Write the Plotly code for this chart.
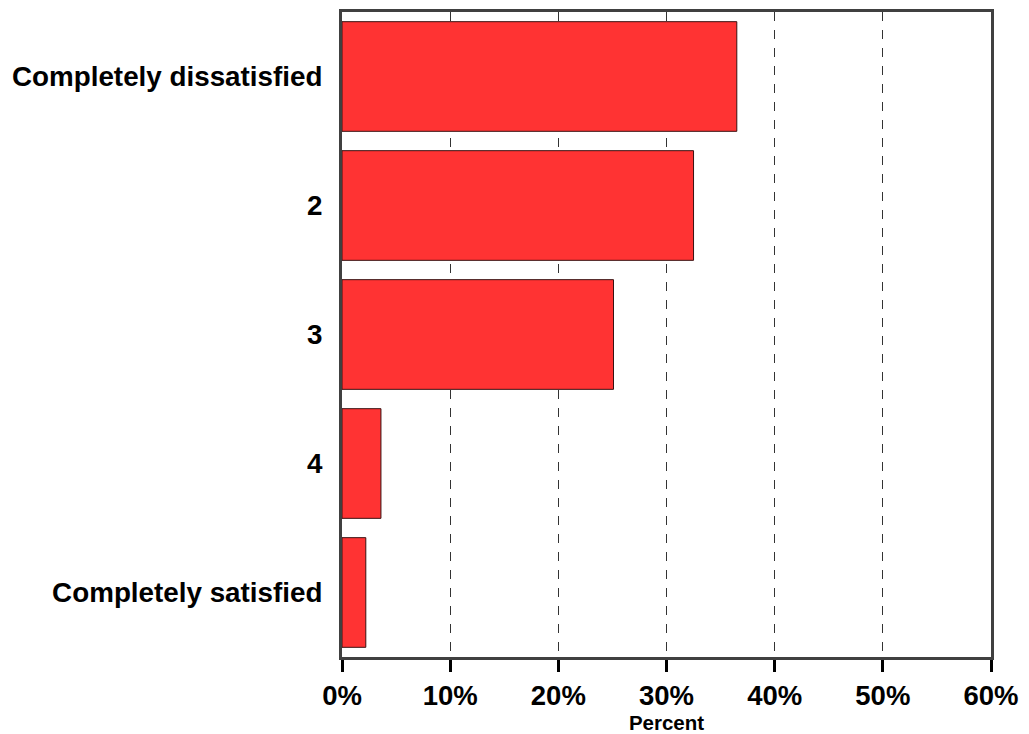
import plotly.graph_objects as go

categories = ["Completely dissatisfied", "2", "3", "4", "Completely satisfied"]
percent = [36.5, 32.5, 25.1, 3.6, 2.2]
x_ticks = [0, 10, 20, 30, 40, 50, 60]
x_tick_labels = ["0%", "10%", "20%", "30%", "40%", "50%", "60%"]

fig = go.Figure()
fig.add_trace(go.Bar(
    y=categories, x=percent, orientation="h",
    marker=dict(color="#FF3333", line=dict(color="#3a1010", width=1)),
    width=0.85,
))

# page body has an 8px margin; compensate so the plot area lands at 342..991 x 9..657
fig.update_layout(
    width=1021, height=726,
    margin=dict(l=334, r=38, t=1, b=77),
    plot_bgcolor="white", paper_bgcolor="white",
    showlegend=False,
    font=dict(family="Liberation Sans, Arial, sans-serif", color="black"),
)
fig.update_xaxes(
    range=[0, 60], tickvals=x_ticks, ticktext=x_tick_labels,
    tickfont=dict(size=27.5, family="Liberation Sans, Arial", weight="bold"),
    showline=True, linecolor="#404040", linewidth=3, mirror=True,
    ticks="outside", ticklen=12, tickwidth=3, tickcolor="black",
    showgrid=True, gridcolor="#333333", gridwidth=1, griddash="dash",
    zeroline=False,
    title=dict(text="<b>Percent</b>", font=dict(size=20.5), standoff=0),
)
fig.update_yaxes(
    autorange="reversed",
    tickfont=dict(size=27.8, family="Liberation Sans, Arial", weight="bold"),
    showline=True, linecolor="#404040", linewidth=3, mirror=True,
    ticks="", ticklabelstandoff=11, showgrid=False,
)

fig.write_html("out.html")
